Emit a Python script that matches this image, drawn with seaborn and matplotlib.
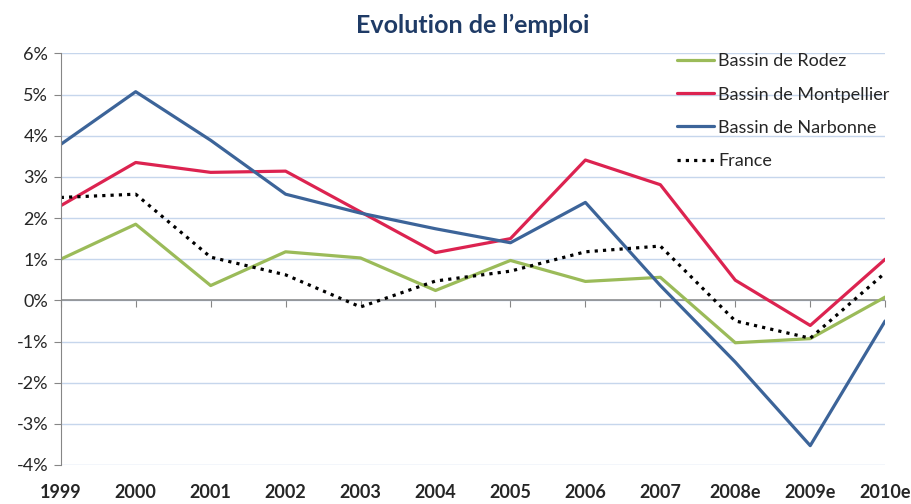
import numpy as np
import pandas as pd
import seaborn as sns
import matplotlib.pyplot as plt
from matplotlib.ticker import FuncFormatter

years = ['1999', '2000', '2001', '2002', '2003', '2004', '2005', '2006', '2007', '2008e', '2009e', '2010e']
rodez = [1.00, 1.85, 0.36, 1.18, 1.03, 0.24, 0.97, 0.46, 0.56, -1.03, -0.93, 0.08]
montpellier = [2.30, 3.35, 3.11, 3.14, 2.15, 1.16, 1.50, 3.41, 2.81, 0.49, -0.61, 1.00]
narbonne = [3.79, 5.07, 3.89, 2.58, 2.12, 1.74, 1.40, 2.38, 0.36, -1.50, -3.53, -0.50]
france = [2.50, 2.58, 1.05, 0.62, -0.16, 0.47, 0.71, 1.18, 1.32, -0.50, -0.92, 0.67]

series = {'Bassin de Rodez': rodez, 'Bassin de Montpellier': montpellier,
          'Bassin de Narbonne': narbonne, 'France': france}
df = pd.concat([pd.DataFrame({'pos': range(len(years)), 'val': v, 'serie': k})
                for k, v in series.items()], ignore_index=True)

sns.set_style('white')
plt.rcParams['font.family'] = ['Lato', 'DejaVu Sans']

palette = {'Bassin de Rodez': '#9BBB59', 'Bassin de Montpellier': '#DC2350',
           'Bassin de Narbonne': '#3C6499', 'France': '#000000'}
dashes = {'Bassin de Rodez': '', 'Bassin de Montpellier': '',
          'Bassin de Narbonne': '', 'France': (1, 1.6)}

fig = plt.figure(figsize=(9.12, 5.04), dpi=100)
ax = fig.add_axes([0.0666, 0.0774, 0.904, 0.8166])

sns.lineplot(data=df, x='pos', y='val', hue='serie', style='serie', palette=palette,
             dashes=dashes, linewidth=2.3, ax=ax)

ax.set_xlim(0, len(years) - 1)
ax.set_ylim(-4, 6)
ax.set_yticks(range(-4, 7))
ax.yaxis.set_major_formatter(FuncFormatter(lambda v, p: f'{int(v)}%'))
ax.grid(axis='y', color='#C6D6EC', linewidth=1)
ax.axhline(0, color='#868686', linewidth=1.1, zorder=1)

ax.set_xticks(range(len(years)))
ax.set_xticklabels(years, fontweight='bold', fontsize=13)
ax.tick_params(axis='x', length=0, pad=14)
ax.tick_params(axis='y', labelsize=13, length=5, color='#868686', left=True, direction='out', pad=4)

# small tick marks on the zero line (axis crosses at 0)
sec = ax.secondary_xaxis(0.4)
sec.set_xticks(range(len(years)))
sec.set_xticklabels([])
sec.tick_params(axis='x', length=5, color='#868686', direction='out')
sec.spines['bottom'].set_visible(False)

for s in ['top', 'right', 'bottom']:
    ax.spines[s].set_visible(False)
ax.spines['left'].set_color('#868686')

ax.set_xlabel('')
ax.set_ylabel('')
ax.set_title("Evolution de l\u2019emploi", fontsize=18, fontweight='bold', color='#1F3B66', pad=15)

ax.legend(loc='upper left', bbox_to_anchor=(0.747, 1.0), frameon=False, fontsize=13,
          borderpad=0, borderaxespad=0, handlelength=2.05, handletextpad=0.25, labelspacing=0.95)

fig.savefig('out.png', dpi=100)
